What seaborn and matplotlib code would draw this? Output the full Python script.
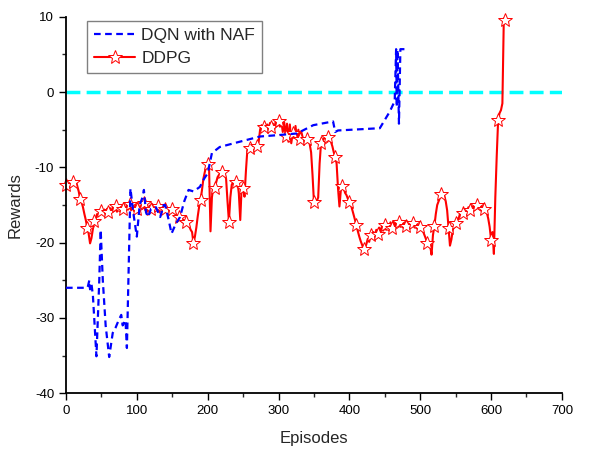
import numpy as np
import pandas as pd
import matplotlib
matplotlib.use("Agg")
import matplotlib.pyplot as plt
from matplotlib.ticker import MultipleLocator
import seaborn as sns

# DQN with NAF: irregular episodes
dqn_episodes = [0, 30, 31, 33, 34, 36, 38, 43, 47, 49, 52, 56, 61, 66, 70, 74, 78, 80, 84, 86,
                91, 95, 100, 104, 108, 110, 113, 116, 120, 127, 133, 138, 140, 145, 149, 155,
                161, 167, 173, 180, 189, 195, 200, 206, 217, 241, 274, 302, 326, 349, 377, 380,
                384, 443, 457, 464, 466, 467, 468, 470, 472, 481]
dqn_rewards = [-26.0, -26.0, -25.8, -25.0, -26.2, -25.5, -27.0, -35.1, -25.0, -18.3, -25.0, -31.0,
               -35.2, -32.0, -31.3, -30.4, -29.6, -31.0, -30.3, -34.0,
               -12.8, -16.0, -19.2, -15.0, -14.0, -13.0, -16.0, -16.6, -15.5, -15.3, -16.6, -15.0,
               -15.0, -17.0, -18.8, -17.5, -16.6, -14.5, -13.0, -13.2, -12.6, -11.5, -10.8, -8.1,
               -7.3, -6.7, -5.9, -5.7, -5.5, -4.4, -3.9, -5.3, -5.1, -4.8, -2.6, -1.2, 5.7, -2.0,
               5.6, -4.2, 5.7, 5.7]

# DDPG: one value every 2 episodes, from 0 to 624
ddpg_step = 2
ddpg_rewards = [
    -12.4, -12.9, -12.2, -12.6, -12.0, -11.9, -12.3, -11.8, -12.5, -13.2,   # 0-18
    -14.2, -14.6, -15.3, -16.2, -17.0, -18.0, -18.8, -20.1, -19.4, -18.2,   # 20-38
    -17.1, -16.8, -16.2, -16.4, -15.9, -15.8, -16.2, -15.6, -16.1, -15.5,   # 40-58
    -15.9, -15.4, -16.0, -15.3, -15.8, -15.2, -15.9, -15.3, -15.7, -15.1,   # 60-78
    -15.6, -15.0, -15.7, -15.1, -15.6, -14.9, -15.7, -15.2, -15.8, -15.0,   # 80-98
    -15.6, -14.9, -15.8, -15.1, -15.5, -14.8, -15.7, -15.0, -15.9, -15.1,   # 100-118
    -15.6, -14.9, -15.8, -15.0, -15.7, -15.2, -16.0, -15.1, -15.6, -15.0,   # 120-138
    -15.5, -15.2, -15.9, -15.4, -16.0, -15.6, -15.8, -16.1, -16.3, -16.5,   # 140-158
    -16.6, -16.7, -16.9, -17.0, -17.1, -17.3, -17.2, -17.8, -18.3, -18.6,   # 160-178
    -20.1, -19.2, -18.0, -16.5, -15.2, -14.3, -13.0, -11.5, -10.6, -9.9,    # 180-198
    -9.6, -10.2, -18.5, -14.0, -12.6, -12.8, -12.0, -11.3, -11.0, -10.8,    # 200-218
    -10.6, -10.5, -10.9, -11.5, -14.5, -17.2, -14.0, -12.3, -12.0, -12.2,   # 220-238
    -11.9, -11.8, -13.5, -17.0, -12.5, -12.8, -13.9, -10.5, -7.7, -7.6,     # 240-258
    -7.4, -7.5, -7.2, -7.4, -7.0, -7.1, -6.6, -5.0, -4.4, -4.9,             # 260-278
    -4.6, -4.8, -4.3, -4.9, -4.1, -4.6, -4.2, -5.0, -3.9, -4.5,             # 280-298
    -3.8, -4.6, -3.9, -5.3, -4.0, -5.8, -4.2, -6.6, -4.3, -6.8,             # 300-318
    -5.5, -6.1, -4.5, -6.3, -5.0, -6.3, -5.2, -6.0, -6.2, -6.4,             # 320-338
    -6.3, -6.4, -6.9, -8.0, -11.0, -14.6, -14.3, -14.5, -14.0, -9.5,        # 340-358
    -6.8, -6.5, -6.2, -6.0, -5.9, -6.0, -6.3, -6.6, -7.2, -8.0,             # 360-378
    -8.6, -9.5, -12.8, -15.2, -13.0, -12.5, -12.8, -13.4, -13.7, -14.2,     # 380-398
    -14.6, -14.9, -15.6, -16.3, -17.0, -17.7, -18.5, -19.2, -19.8, -20.3,   # 400-418
    -20.9, -20.7, -20.2, -19.5, -19.9, -19.0, -19.4, -18.6, -19.1, -18.3,   # 420-438
    -18.8, -18.0, -18.6, -17.8, -18.4, -17.6, -18.3, -17.5, -18.1, -17.3,   # 440-458
    -18.0, -17.2, -17.9, -17.1, -17.8, -17.2, -17.9, -17.1, -17.7, -17.3,   # 460-478
    -17.8, -17.2, -17.9, -17.3, -17.6, -17.4, -18.0, -17.5, -17.8, -17.6,   # 480-498
    -17.9, -18.0, -18.5, -19.0, -19.5, -20.0, -20.2, -20.4, -21.6, -19.0,   # 500-518
    -17.8, -16.2, -15.0, -14.5, -14.0, -13.5, -13.4, -13.8, -14.5, -15.7,   # 520-538
    -18.1, -20.4, -19.6, -18.3, -17.8, -17.4, -16.8, -16.9, -16.2, -16.6,   # 540-558
    -16.0, -16.4, -15.6, -15.9, -15.3, -15.7, -15.2, -15.5, -14.9, -15.4,   # 560-578
    -15.0, -14.9, -15.6, -15.0, -15.3, -15.5, -15.4, -16.0, -16.8, -17.9,   # 580-598
    -19.6, -18.6, -21.5, -14.0, -8.5, -3.7, -2.8, -2.4, -1.5, 9.8,          # 600-618
    9.6, 9.4, 9.2,                                                          # 620-624
]
ddpg_episodes = np.arange(len(ddpg_rewards)) * ddpg_step

# target reward line
target_reward = 0
x_range = (0, 700)
y_range = (-40, 10)

dqn_df = pd.DataFrame({"Episodes": dqn_episodes, "Rewards": dqn_rewards})
ddpg_df = pd.DataFrame({"Episodes": ddpg_episodes, "Rewards": ddpg_rewards})

sns.set_style("ticks")
plt.rcParams["font.family"] = ["Liberation Sans", "DejaVu Sans"]
plt.rcParams["axes.unicode_minus"] = False

fig, ax = plt.subplots(figsize=(5.89, 4.54), dpi=100)
fig.subplots_adjust(left=0.112, right=0.954, bottom=0.134, top=0.963)

# zero line
ax.axhline(target_reward, color="#00FFFF", lw=2.5, ls=(0, (4, 1.8)), zorder=1)

sns.lineplot(data=dqn_df, x="Episodes", y="Rewards", ax=ax, estimator=None,
             color="#0000FF", lw=1.6, linestyle=(0, (3, 2)), label="DQN with NAF", zorder=3)
sns.lineplot(data=ddpg_df, x="Episodes", y="Rewards", ax=ax, estimator=None,
             color="#FF0000", lw=1.5, marker="*", markersize=10, markerfacecolor="white",
             markeredgecolor="#FF0000", markeredgewidth=0.7, markevery=5,
             label="DDPG", zorder=2, clip_on=False)

ax.set_xlim(*x_range)
ax.set_ylim(*y_range)
ax.xaxis.set_major_locator(MultipleLocator(100))
ax.xaxis.set_minor_locator(MultipleLocator(50))
ax.yaxis.set_major_locator(MultipleLocator(10))
ax.yaxis.set_minor_locator(MultipleLocator(5))
ax.tick_params(which="major", direction="out", length=5, width=1.0, labelsize=9.5, colors="black")
ax.tick_params(which="minor", direction="out", length=3, width=1.0)
for side in ["left", "bottom"]:
    ax.spines[side].set_linewidth(1.3)
    ax.spines[side].set_color("black")
sns.despine(ax=ax)

ax.set_xlabel("Episodes", fontsize=12, labelpad=10)
ax.set_ylabel("Rewards", fontsize=12, labelpad=9)

leg = ax.legend(loc="upper left", bbox_to_anchor=(0.042, 0.99), borderaxespad=0,
                fontsize=12.5, frameon=True, fancybox=False, framealpha=1,
                edgecolor="#808080", handlelength=2.4, handletextpad=0.35,
                labelspacing=0.45, borderpad=0.4)
leg.get_frame().set_linewidth(1.0)

fig.savefig("out.png", dpi=100)
